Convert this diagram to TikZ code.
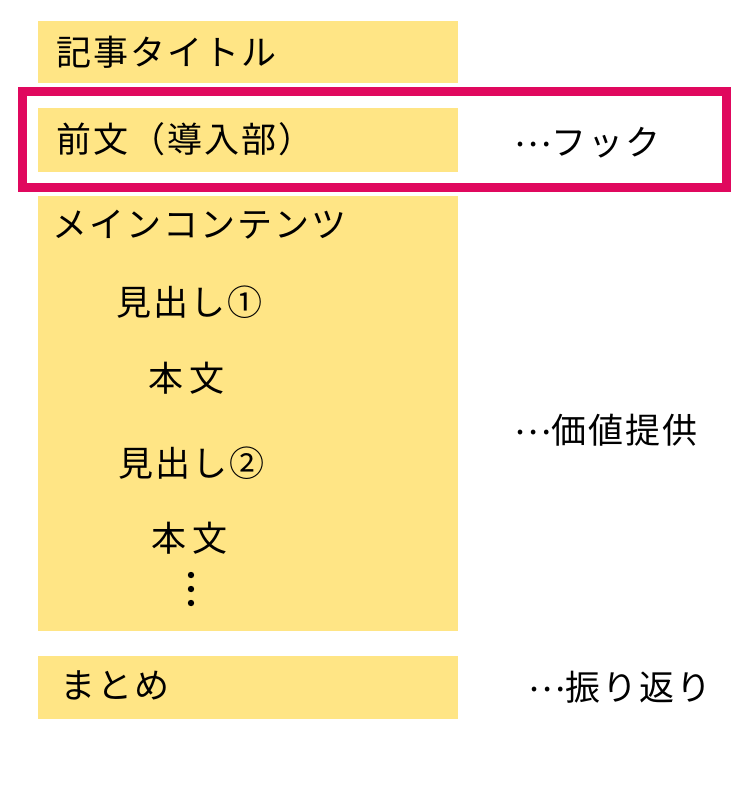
\documentclass[tikz,border=0pt]{standalone}
\usepackage{fontspec}
\setmainfont{Noto Sans CJK JP}[LetterSpace=6]
\definecolor{boxyellow}{HTML}{FFE585}
\definecolor{hookpink}{HTML}{E0085E}
\newcommand{\midell}{\raisebox{9pt}{…}}
\begin{document}
\begin{tikzpicture}[x=1pt,y=-1pt,
  block/.style={fill=boxyellow,draw=none},
  lbl/.style={anchor=west,inner sep=0pt,font=\fontsize{35}{35}\selectfont},
  dotmark/.style={fill=black,draw=none}]
\useasboundingbox (0,0) rectangle (750,800);
\fill[white] (0,0) rectangle (750,800);
% blocks
\path[block] (38,21) rectangle (458,83);
\path[block] (38,108) rectangle (458,172);
\path[block] (38,196) rectangle (458,631);
\path[block] (38,656) rectangle (458,719);
% hook frame
\draw[hookpink,line width=9pt] (22.5,91.5) rectangle (726.5,187.5);
% texts
\node[lbl] (title) at (56,52) {記事タイトル};
\node[lbl] (lead) at (56,139) {前文（導入部）};
\node[lbl] (hook) at (514,143) {\midell フック};
\node[lbl] (main) at (52,225) {メインコンテンツ};
\node[lbl] (h1) at (116,302) {見出し①};
\node[lbl] (b1) at (148,378) {本\,文};
\node[lbl] (value) at (514,430) {\midell 価値提供};
\node[lbl] (h2) at (118,463) {見出し②};
\node[lbl] (b2) at (151,538) {本\,文};
\node[lbl] (sum) at (60,685) {まとめ};
\node[lbl] (recap) at (528,687) {\midell 振り返り};
% vertical dots
\fill[dotmark] (191,575) circle (3.2);
\fill[dotmark] (191,589) circle (3.2);
\fill[dotmark] (191,603) circle (3.2);
\end{tikzpicture}
\end{document}
